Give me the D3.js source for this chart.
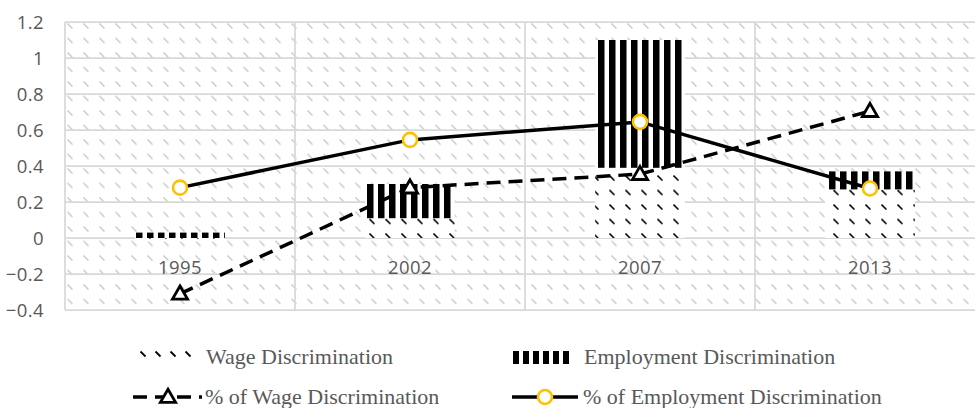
<!DOCTYPE html>
<html>
<head>
<meta charset="utf-8">
<script src="https://cdn.jsdelivr.net/npm/d3@7"></script>
<style>
  html, body { margin: 0; padding: 0; background: #fff; }
  svg { display: block; }
</style>
</head>
<body>
<svg id="chart" width="975" height="408"></svg>
<script>
// ---- data ----
const categories = ["1995", "2002", "2007", "2013"];
const wageDiscrimination = [-0.02, 0.11, 0.39, 0.27];
const employmentDiscrimination = [0.03, 0.19, 0.71, 0.10];
const pctWageDiscrimination = [-0.31, 0.28, 0.355, 0.705];
const pctEmploymentDiscrimination = [0.28, 0.545, 0.645, 0.275];
const yTicks = [-0.4, -0.2, 0, 0.2, 0.4, 0.6, 0.8, 1, 1.2];
const legendLabels = ["Wage Discrimination", "Employment Discrimination",
                      "% of Wage Discrimination", "% of Employment Discrimination"];

const svg = d3.select("#chart");
const plot = { left: 65, right: 985, top: 22, bottom: 310 };

const x = d3.scaleBand().domain(categories).range([plot.left, plot.right]).paddingInner(0).paddingOuter(0);
const y = d3.scaleLinear().domain([-0.4, 1.2]).range([plot.bottom, plot.top]);
const barW = x.bandwidth() * 0.39;
const cx = c => x(c) + x.bandwidth() / 2;

// ---- patterns ----
const defs = svg.append("defs");
function dashPattern(id, color, bg, w, h, sw, px, py) {
  const p = defs.append("pattern").attr("id", id).attr("patternUnits", "userSpaceOnUse")
    .attr("width", w).attr("height", h).attr("x", px || 0).attr("y", py || 0);
  if (bg) p.append("rect").attr("width", w).attr("height", h).attr("fill", bg);
  p.append("line").attr("x1", 1.5).attr("y1", 1.5).attr("x2", 6.5).attr("y2", 6.5)
    .attr("stroke", color).attr("stroke-width", sw).attr("stroke-linecap", "butt");
  return p;
}
dashPattern("bgDash", "#c8c8c8", "#fff", 16, 14.5, 1.4, 66, 22);
dashPattern("wageDash", "#000", "#fff", 16, 14.5, 1.6, 0, 0);
dashPattern("legDash", "#000", null, 15, 12, 1.8, 139, 350);
const stripe = defs.append("pattern").attr("id", "stripe").attr("patternUnits", "userSpaceOnUse")
  .attr("width", 11).attr("height", 10).attr("x", 598);
stripe.append("rect").attr("width", 11).attr("height", 10).attr("fill", "#fff");
stripe.append("rect").attr("width", 6.5).attr("height", 10).attr("fill", "#000");
const legStripe = defs.append("pattern").attr("id", "legStripe").attr("patternUnits", "userSpaceOnUse")
  .attr("width", 10).attr("height", 10).attr("x", 513);
legStripe.append("rect").attr("width", 6).attr("height", 10).attr("fill", "#000");

// ---- plot background ----
svg.append("rect").attr("x", plot.left).attr("y", plot.top)
  .attr("width", plot.right - plot.left).attr("height", plot.bottom - plot.top)
  .attr("fill", "url(#bgDash)");

// gridlines
const grid = svg.append("g").attr("stroke", "#d9d9d9").attr("stroke-width", 1.75);
grid.selectAll("line.h").data(yTicks).join("line").attr("class", "h")
  .attr("x1", plot.left).attr("x2", plot.right)
  .attr("y1", d => y(d)).attr("y2", d => y(d));
grid.selectAll("line.v").data(categories).join("line").attr("class", "v")
  .attr("x1", d => x(d)).attr("x2", d => x(d))
  .attr("y1", plot.top).attr("y2", plot.bottom);

// y axis labels
const yAxis = d3.axisLeft(y).tickValues(yTicks).tickSize(0).tickPadding(0)
  .tickFormat(d => d3.format("")(+d.toFixed(1)));
const gy = svg.append("g").attr("transform", `translate(44,0)`).call(yAxis);
gy.select(".domain").remove();
gy.selectAll("text").attr("font-family", "'Open Sans', sans-serif").attr("font-size", 18.5)
  .attr("fill", "#595959").attr("letter-spacing", 0.4).attr("dy", "0.35em");

// ---- stacked bars ----
const rows = categories.map((c, i) => ({ cat: c, wage: wageDiscrimination[i], emp: employmentDiscrimination[i] }));
const stack = d3.stack().keys(["wage", "emp"]).offset(d3.stackOffsetDiverging);
const series = stack(rows);
const fills = { wage: "url(#wageDash)", emp: "url(#stripe)" };
svg.append("g").selectAll("g").data(series).join("g")
  .attr("fill", d => fills[d.key])
  .selectAll("rect").data(d => d).join("rect")
  .attr("x", d => cx(d.data.cat) - barW / 2)
  .attr("width", barW)
  .attr("y", d => y(Math.max(d[0], d[1])))
  .attr("height", d => Math.abs(y(d[0]) - y(d[1])));

// category labels
const xAxis = d3.axisBottom(x).tickSize(0).tickPadding(0);
const gx = svg.append("g").attr("transform", `translate(0,${y(0)})`).call(xAxis);
gx.select(".domain").remove();
gx.selectAll("text").attr("font-family", "'Open Sans', sans-serif").attr("font-size", 18.5)
  .attr("fill", "#595959").attr("letter-spacing", 0.4).attr("dy", "0").attr("y", 36);

// ---- lines ----
const line = d3.line().x(d => cx(d.cat)).y(d => y(d.v));
const wagePts = categories.map((c, i) => ({ cat: c, v: pctWageDiscrimination[i] }));
const empPts = categories.map((c, i) => ({ cat: c, v: pctEmploymentDiscrimination[i] }));

svg.append("path").datum(wagePts).attr("d", line).attr("fill", "none")
  .attr("stroke", "#000").attr("stroke-width", 3.5).attr("stroke-dasharray", "14,8");
const tri = d3.symbol(d3.symbolTriangle, 100);
svg.append("g").selectAll("path").data(wagePts).join("path")
  .attr("d", tri).attr("transform", d => `translate(${cx(d.cat)},${y(d.v) + 1})`)
  .attr("fill", "#fff").attr("stroke", "#000").attr("stroke-width", 2.8);

svg.append("path").datum(empPts).attr("d", line).attr("fill", "none")
  .attr("stroke", "#000").attr("stroke-width", 3.5);
svg.append("g").selectAll("circle").data(empPts).join("circle")
  .attr("cx", d => cx(d.cat)).attr("cy", d => y(d.v)).attr("r", 7)
  .attr("fill", "#fff").attr("stroke", "#FFC000").attr("stroke-width", 2.6);

// ---- legend ----
const lg = svg.append("g");
const legFont = "'Liberation Serif', 'Times New Roman', serif";
lg.append("rect").attr("x", 139).attr("y", 350).attr("width", 57).attr("height", 10)
  .attr("fill", "url(#legDash)");
lg.append("rect").attr("x", 513).attr("y", 351).attr("width", 59).attr("height", 13)
  .attr("fill", "url(#legStripe)");
lg.append("line").attr("x1", 133).attr("x2", 202).attr("y1", 397).attr("y2", 397)
  .attr("stroke", "#000").attr("stroke-width", 3.5).attr("stroke-dasharray", "14,8");
lg.append("path").attr("d", tri).attr("transform", "translate(168,398)")
  .attr("fill", "#fff").attr("stroke", "#000").attr("stroke-width", 2.8);
lg.append("line").attr("x1", 512).attr("x2", 578).attr("y1", 397).attr("y2", 397)
  .attr("stroke", "#000").attr("stroke-width", 3.5);
lg.append("circle").attr("cx", 545).attr("cy", 397).attr("r", 7)
  .attr("fill", "#fff").attr("stroke", "#FFC000").attr("stroke-width", 2.6);

const legPos = [[206, 364], [584, 364], [205, 404], [583, 404]];
lg.selectAll("text").data(legendLabels).join("text")
  .attr("x", (d, i) => legPos[i][0]).attr("y", (d, i) => legPos[i][1])
  .attr("font-family", legFont).attr("font-size", 22).attr("fill", "#595959")
  .text(d => d);
</script>
</body>
</html>
